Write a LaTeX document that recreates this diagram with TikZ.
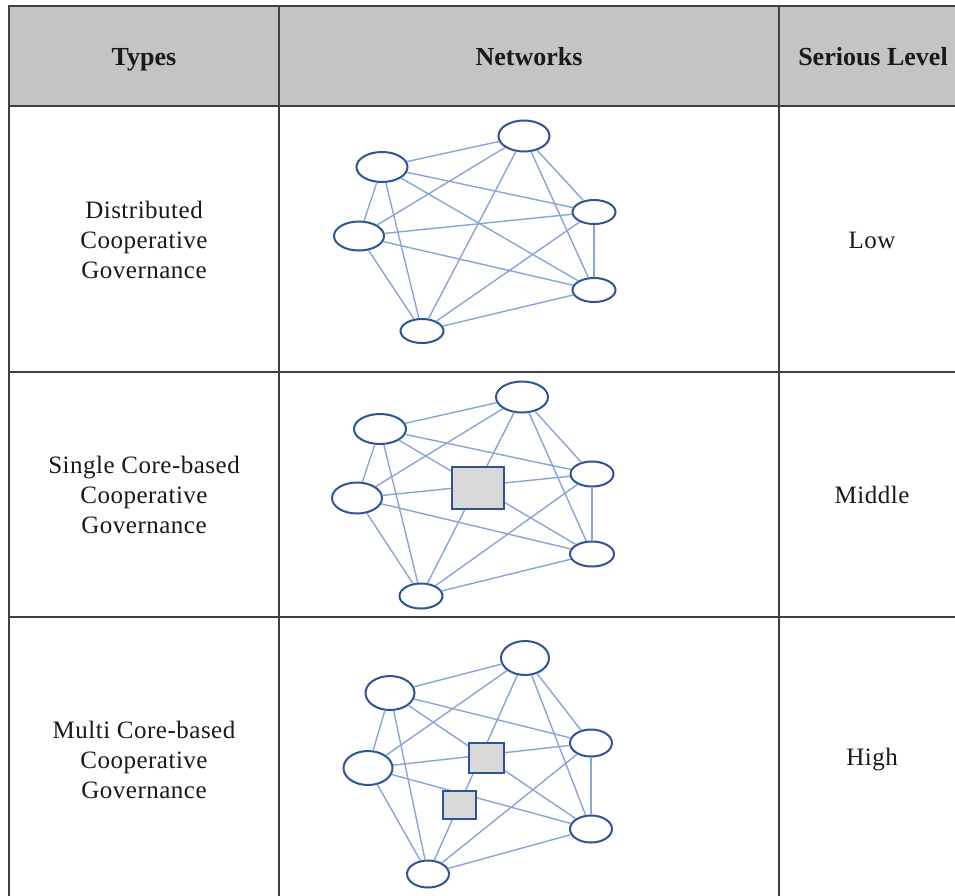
\documentclass[tikz,border=0pt]{standalone}
\usepackage{fontspec}
\setmainfont{Liberation Serif}
\usetikzlibrary{shapes.geometric}
\definecolor{nodeblue}{RGB}{47,84,150}
\definecolor{edgeblue}{RGB}{138,164,216}
\definecolor{hdrgray}{RGB}{196,196,196}
\definecolor{boxgray}{RGB}{217,217,217}
\definecolor{rulegray}{RGB}{64,64,64}
\definecolor{txt}{RGB}{25,25,25}
\tikzset{
  peer/.style={ellipse, draw=nodeblue, line width=2pt, fill=white, inner sep=0pt},
  core/.style={rectangle, draw=nodeblue, line width=2pt, fill=boxgray, inner sep=0pt},
  link/.style={draw=edgeblue, line width=1.4pt},
  hdr/.style={font=\fontsize{26}{30}\selectfont\bfseries, text=txt, anchor=base},
  cell/.style={font=\fontsize{25}{30}\selectfont\addfontfeature{LetterSpace=2}, align=center, text=txt},
  tablerule/.style={draw=rulegray, line width=1.6pt},
}
\begin{document}
\begin{tikzpicture}[x=1pt,y=-1pt]
\useasboundingbox (0,0) rectangle (955,895);
\fill[white] (0,0) rectangle (955,895);
% table
\fill[hdrgray] (9,6) rectangle (975,106);
\draw[tablerule] (975,6) -- (9,6) -- (9,915);
\draw[tablerule] (9,106) -- (975,106);
\draw[tablerule] (9,372) -- (975,372);
\draw[tablerule] (9,617) -- (975,617);
\draw[tablerule] (279,6) -- (279,915);
\draw[tablerule] (779,6) -- (779,915);
% header
\node[hdr] (h1) at (144,65) {Types};
\node[hdr] (h2) at (529,65) {Networks};
\node[hdr] (h3) at (873,65) {Serious Level};
% row labels
\node[cell] (t1) at (144,240) {Distributed\\Cooperative\\Governance};
\node[cell] (l1) at (872,240) {Low};
\node[cell] (t2) at (144,495) {Single Core-based\\Cooperative\\Governance};
\node[cell] (l2) at (872,495) {Middle};
\node[cell] (t3) at (144,760) {Multi Core-based\\Cooperative\\Governance};
\node[cell] (l3) at (872,760) {High};
% row 1 network
\node[peer, minimum width=51pt, minimum height=31pt] (a1) at (524,136) {};
\node[peer, minimum width=51pt, minimum height=30pt] (b1) at (382,167) {};
\node[peer, minimum width=50pt, minimum height=29pt] (c1) at (359,236) {};
\node[peer, minimum width=43pt, minimum height=24pt] (d1) at (594,212) {};
\node[peer, minimum width=43pt, minimum height=24pt] (e1) at (594,290) {};
\node[peer, minimum width=43pt, minimum height=24pt] (f1) at (422,331) {};
% row 2 network
\node[peer, minimum width=52pt, minimum height=31pt] (a2) at (522,397) {};
\node[peer, minimum width=52pt, minimum height=30pt] (b2) at (380,429) {};
\node[peer, minimum width=50pt, minimum height=31pt] (c2) at (357,498) {};
\node[peer, minimum width=43pt, minimum height=25pt] (d2) at (592,474) {};
\node[peer, minimum width=44pt, minimum height=25pt] (e2) at (592,554) {};
\node[peer, minimum width=43pt, minimum height=25pt] (f2) at (421,596) {};
% row 3 network
\node[peer, minimum width=48pt, minimum height=34pt] (a3) at (525,658) {};
\node[peer, minimum width=49pt, minimum height=34pt] (b3) at (390,693) {};
\node[peer, minimum width=49pt, minimum height=34pt] (c3) at (368,768) {};
\node[peer, minimum width=42pt, minimum height=27pt] (d3) at (591,743) {};
\node[peer, minimum width=42pt, minimum height=27pt] (e3) at (591,829) {};
\node[peer, minimum width=42pt, minimum height=27pt] (f3) at (428,874) {};
% links (complete graphs)
\foreach \r in {1,2,3}{
  \foreach \p/\q in {a/b,a/c,a/d,a/e,a/f,b/c,b/d,b/e,b/f,c/d,c/e,c/f,d/e,d/f,e/f}{
    \draw[link] (\p\r) -- (\q\r);
  }
}
% cores
\node[core, minimum width=52pt, minimum height=42pt] (s2) at (478,488) {};
\node[core, minimum width=35pt, minimum height=30pt] (s3a) at (486,758) {};
\node[core, minimum width=33pt, minimum height=28pt] (s3b) at (459,805) {};
\end{tikzpicture}
\end{document}
